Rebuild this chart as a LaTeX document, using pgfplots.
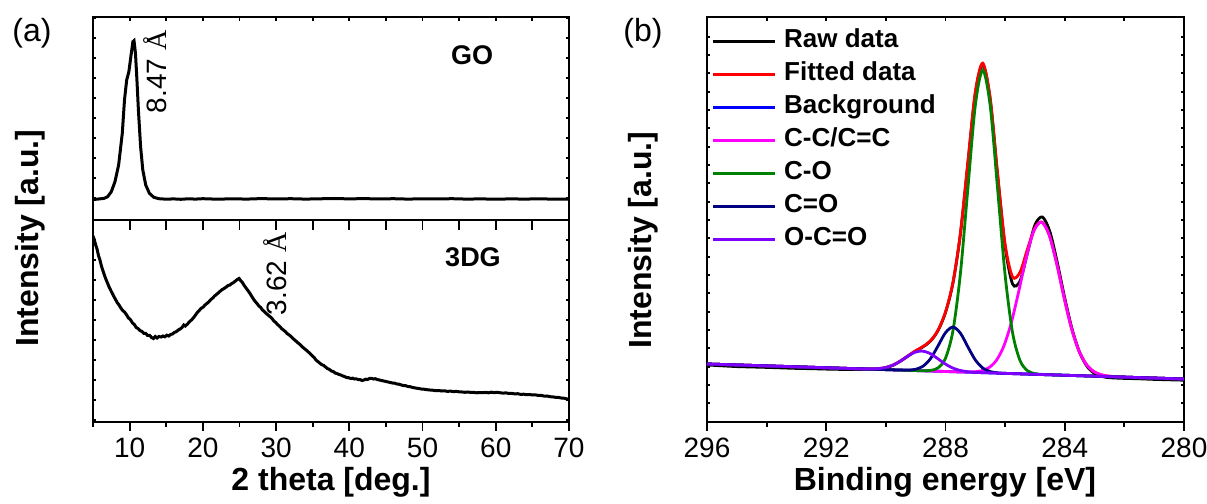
\documentclass[border=0pt]{standalone}
\usepackage{fontspec}
\setmainfont{Liberation Sans}
\newfontfamily\seriffont{Liberation Serif}
\usepackage{pgfplots}
\pgfplotsset{compat=1.18}

\definecolor{cgreen}{RGB}{0,128,0}
\definecolor{cnavy}{RGB}{0,0,128}
\definecolor{cviolet}{RGB}{128,0,255}
\definecolor{cmag}{RGB}{255,0,255}

\pgfplotsset{
  frm/.style={scale only axis, anchor=south west,
    axis line style={line width=0.9pt},
    every tick/.style={black,line width=0.9pt},
    tick align=inside,
    /pgf/number format/assume math mode=true,
    ticklabel style={font=\fontsize{14}{14}\selectfont},
    major tick length=1.6pt, minor tick length=1.6pt},
}

\begin{document}
\begin{tikzpicture}[x=1pt,y=1pt]
\useasboundingbox (0,0) rectangle (603.5,252);

% ---------------- (a) top : GO ----------------
\begin{axis}[frm, at={(46.5pt,142pt)}, width=238pt, height=101.5pt,
  xmin=5, xmax=70, ymin=0, ymax=203,
  xtick=\empty,
  ytick={21.7,41.7,...,201.7}, yticklabels={}, ytick pos=both]
\addplot[black, line width=1.5pt] coordinates {
(5,20.5)(5.5,20.8)(6,21.2)(6.5,21.6)(7,23.3)(7.5,28.3)(8,38.3)(8.5,55)(9,86.7)(9.3,120)(9.6,140)(9.9,148.3)(10.2,165)(10.45,178.3)(10.6,179.3)(10.8,166.7)(11,140)(11.2,110)(11.5,73.3)(11.8,50)(12.2,35)(12.7,26.7)(13.3,22.7)(14,21.3)(15,20.8)(16,21.1)(17,20.7)(18,21.2)(19,20.9)(20,21.3)(22,20.8)(24,21.2)(26,20.9)(28,21.4)(30,21.0)(32,21.3)(34,20.9)(36,21.2)(38,21.5)(40,21.1)(42,21.4)(44,21.0)(46,21.3)(48,20.9)(50,21.2)(52,21.0)(54,21.3)(56,20.9)(58,21.1)(60,20.8)(62,21.1)(64,20.9)(66,21.2)(68,20.8)(70,20.9)
};
\end{axis}
\begin{axis}[frm, hide y axis, at={(46.5pt,142pt)}, width=238pt, height=101.5pt,
  xmin=5, xmax=70, ymin=0, ymax=203,
  xtick={10,15,...,65}, xticklabels={}, xtick pos=right, major tick length=2pt]
\end{axis}

% ---------------- (a) bottom : 3DG ----------------
\begin{axis}[frm, at={(46.5pt,41pt)}, width=238pt, height=101pt,
  xmin=5, xmax=70, ymin=0, ymax=202,
  xtick=\empty,
  ytick={2,22,...,182}, yticklabels={}, ytick pos=both]
\addplot[black, line width=1.5pt] coordinates {
(5,186)(5.15,183)(5.35,177.5)(5.55,173)(5.75,166.5)(5.95,162)(6.15,156)(6.35,151.5)(6.55,147)(6.75,143)(6.95,139.5)(7.2,135)(7.5,130.5)(7.75,127)(8.0,123.5)(8.3,119.5)(8.55,117)(8.8,114)(9.05,111.5)(9.3,110)(9.6,107)(9.85,104)(10.1,102.5)(10.4,99)(10.65,97.5)(10.9,94.5)(11.15,93.5)(11.4,91.5)(11.7,90.5)(11.95,88.5)(12.2,88.5)(12.45,86.5)(12.75,86.5)(13.0,84.5)(13.25,83.5)(13.5,85.5)(13.75,84)(14.0,85.5)(14.3,85)(14.55,86)(14.8,85.2)(15.1,86.8)(15.35,86)(15.6,87.5)(15.85,88)(16.1,89.5)(16.4,90.5)(16.65,92)(16.9,93)(17.15,94.5)(17.4,97)(17.6,96)(17.9,98)(18.2,100.5)(18.45,102)(18.75,104.5)(19.0,107)(19.25,109.5)(19.5,111.5)(19.75,113.5)(20.05,115)(20.3,117)(20.55,118.5)(20.8,120)(21.1,122.5)(21.35,124)(21.6,126)(21.85,127.5)(22.1,129)(22.4,131)(22.65,132.5)(22.9,133.5)(23.2,135)(23.45,136.5)(23.7,137)(23.95,138.5)(24.2,139.5)(24.45,141)(24.7,142.5)(24.95,143.5)(25.15,141.5)(25.4,139.5)(25.65,136.5)(25.9,134)(26.15,131.5)(26.4,129)(26.65,126)(26.9,123)(27.15,120.5)(27.4,118.5)(27.65,116)(27.9,114.5)(28.15,112)(28.4,110.5)(28.65,108.5)(28.9,107)(29.15,105.5)(29.45,103.5)(29.7,101)(29.95,99.5)(30.2,97.5)(30.5,95.5)(30.75,93.5)(31.0,92)(31.25,90.5)(31.5,88.5)(31.8,87)(32.05,85.5)(32.3,83.5)(32.55,82)(32.85,80)(33.1,78.5)(33.35,77)(33.6,75)(33.85,73.5)(34.1,72)(34.4,70)(34.65,68.5)(34.9,66.5)(35.2,64.5)(35.45,62)(35.7,60.5)(35.95,59)(36.2,57.5)(36.5,56.5)(36.75,55)(37.0,53.5)(37.3,52.5)(37.55,51)(37.8,50.5)(38.05,49)(38.3,48.5)(38.6,47.5)(38.85,47)(39.1,46)(39.35,45.5)(39.6,44.5)(39.9,44.3)(40.2,43.5)(40.45,43.8)(40.7,43)(40.95,43.2)(41.2,42.5)(41.5,42.3)(41.75,41.5)(42.0,42)(42.25,42.8)(42.5,42.5)(42.75,43.5)(43.0,43.7)(43.3,43)(43.55,43.3)(43.8,42.5)(44.1,42)(44.4,41.5)(44.7,41)(45.0,40.5)(45.3,40)(45.6,39.5)(45.9,39)(46.2,38.8)(46.5,38)(46.8,37.8)(47.1,37)(47.4,36.5)(47.7,36.3)(48.0,35.5)(48.3,35.3)(48.6,34.6)(48.9,34.2)(49.2,33.8)(49.5,33.5)(49.8,33)(50.2,32.8)(50.6,32.3)(51.0,32)(51.4,31.8)(51.8,31.3)(52.2,31.5)(52.6,31)(53.0,31.2)(53.4,30.6)(53.8,30.9)(54.2,30.4)(54.6,30.6)(55.0,30.2)(55.4,30.0)(55.8,29.7)(56.2,30)(56.6,29.5)(57.0,29.6)(57.4,29.2)(57.8,29.5)(58.2,29.3)(58.6,29.6)(59.0,29.2)(59.4,29.8)(59.8,29.4)(60.2,29.7)(60.6,29.2)(61.0,28.9)(61.4,29.1)(61.8,28.5)(62.2,28.6)(62.6,28.1)(63.0,28.3)(63.4,27.6)(63.8,27.8)(64.2,27.3)(64.6,27.5)(65.0,27)(65.4,27.2)(65.8,26.5)(66.2,26.6)(66.6,25.9)(67.0,26)(67.4,25.3)(67.8,25.1)(68.2,24.6)(68.6,24.5)(69.0,23.9)(69.4,23.7)(69.7,23.1)(70,22.5)
};
\end{axis}
\begin{axis}[frm, hide y axis, at={(46.5pt,41pt)}, width=238pt, height=101pt,
  xmin=5, xmax=70, ymin=0, ymax=202,
  xtick={10,15,...,65}, xticklabels={}, xtick pos=right, major tick length=5pt]
\end{axis}
\begin{axis}[frm, hide y axis, at={(46.5pt,41pt)}, width=238pt, height=101pt,
  xmin=5, xmax=70, ymin=0, ymax=202,
  xtick={10,20,...,70}, minor xtick={5,15,...,65}, xtick pos=left,
  tick align=outside, major tick length=4.5pt, minor tick length=2.5pt]
\end{axis}

% ---------------- (b) XPS ----------------
\begin{axis}[frm, at={(353.5pt,41pt)}, width=238.5pt, height=202.5pt,
  x dir=reverse, xmin=280, xmax=296, ymin=0, ymax=405,
  xtick=\empty,
  ytick={18.7,37.03,...,386}, yticklabels={}, ytick pos=both,
  legend cell align=left,
  legend style={draw=none, fill=none, at={(rel axis cs:0,1)}, anchor=north west,
    xshift=2pt, yshift=-5.5pt, inner sep=0pt, row sep=3.4pt,
    font=\bfseries\fontsize{13}{13}\selectfont,
    nodes={inner sep=0pt, text height=9.6pt, text depth=3.5pt},
    /tikz/every odd column/.append style={column sep=4pt}},
  legend image code/.code={\draw[#1, line width=1.4pt] (0pt,0pt) -- (31pt,0pt);}]
% Raw data
\addplot[black, line width=1.4pt, smooth] coordinates {
(296,57.0)(295.5,56.2)(295,55.4)(294.5,55.0)(294,54.6)(293.5,54.1)(293,53.6)(292.5,53.3)(292,52.9)(291.5,52.6)(291,52.4)(290.75,52.5)(290.5,52.6)(290.25,53.0)(290,54.3)(289.75,56.8)(289.5,61.0)(289.25,66.0)(289,71.0)(288.75,75.2)(288.5,81.0)(288.25,91.5)(288,109.5)(287.75,139.0)(287.5,188.0)(287.25,258.5)(287,328.5)(286.75,357.5)(286.5,322.5)(286.25,246.0)(286,175.5)(285.75,138.0)(285.5,141.0)(285.25,169.0)(285,197.0)(284.75,205.0)(284.5,190.5)(284.25,159.5)(284,124.0)(283.75,92.5)(283.5,69.5)(283.25,55.5)(283,48.5)(282.75,45.5)(282.5,44.3)(282,43.6)(281.5,43.2)(281,42.6)(280.5,42.2)(280,41.8)
};
\addlegendentry{Raw data}
% Fitted data
\addplot[red, line width=1.4pt, smooth] coordinates {
(296,58)(294,56.13)(292,54.25)(291,53.32)(290.75,53.14)(290.5,53.07)(290.25,53.39)(290,54.53)(289.75,57.07)(289.5,61.24)(289.25,66.40)(289,71.32)(288.75,75.62)(288.5,81.34)(288.25,91.87)(288,109.98)(287.75,139.5)(287.5,188.65)(287.25,259.36)(287,329.9)(286.75,358.82)(286.5,323.49)(286.25,247.29)(286,177.64)(285.75,145.1)(285.5,149.82)(285.25,172.99)(285,194.21)(284.75,199.63)(284.5,185.17)(284.25,155.87)(284,121.51)(283.75,91.19)(283.5,69.49)(283.25,56.55)(283,49.94)(282.75,46.99)(282.5,45.76)(282,44.9)(281,43.94)(280,43)
};
\addlegendentry{Fitted data}
% Background
\addplot[blue, line width=1.4pt] coordinates {(296,58)(280,43)};
\addlegendentry{Background}
% C-C/C=C
\addplot[cmag, line width=1.4pt, smooth] coordinates {
(296,58)(290,52.38)(287.55,50.08)(287.3,49.98)(287.05,50.15)(286.8,51.15)(286.55,54.17)(286.3,61.35)(286.05,75.42)(285.8,98.51)(285.55,129.71)(285.3,163.40)(285.05,189.98)(284.8,200.0)(284.55,189.52)(284.3,162.46)(284.05,128.31)(283.8,96.63)(283.55,73.08)(283.3,58.53)(283.05,50.89)(282.8,47.40)(282.55,45.93)(282.3,45.30)(282.05,44.92)(280,43)
};
\addlegendentry{C-C/C=C}
% C-O
\addplot[cgreen, line width=1.4pt, smooth] coordinates {
(296,58)(290,52.38)(289,51.44)(288.75,51.3)(288.5,51.63)(288.25,54.09)(288,63.8)(287.75,91.17)(287.5,148.33)(287.25,233.3)(287,316.56)(286.75,351.93)(286.5,316.09)(286.25,232.36)(286,146.93)(285.75,89.29)(285.5,61.46)(285.25,51.28)(285,48.35)(284.75,47.55)(284.5,47.22)(280,43)
};
\addlegendentry{C-O}
% C=O
\addplot[cnavy, line width=1.4pt, smooth] coordinates {
(296,58)(291,53.31)(289.75,52.14)(289.5,51.95)(289.25,51.94)(289,52.74)(288.75,55.85)(288.5,63.48)(288.25,76.11)(288,89.30)(287.75,94.97)(287.5,88.83)(287.25,75.18)(287,62.07)(286.75,53.98)(286.5,50.39)(286.25,49.13)(286,48.67)(285.75,48.39)(280,43)
};
\addlegendentry{C=O}
% O-C=O
\addplot[cviolet, line width=1.4pt, smooth] coordinates {
(296,58)(292,54.25)(291.05,53.36)(290.8,53.17)(290.55,53.07)(290.3,53.28)(290.05,54.20)(289.8,56.43)(289.55,60.26)(289.3,65.16)(289.05,69.42)(288.8,71.0)(288.55,68.96)(288.3,64.22)(288.05,58.86)(287.8,54.55)(287.55,51.86)(287.3,50.46)(287.05,49.79)(286.8,49.42)(286.55,49.15)(280,43)
};
\addlegendentry{O-C=O}
\end{axis}
\begin{axis}[frm, hide y axis, at={(353.5pt,41pt)}, width=238.5pt, height=202.5pt,
  x dir=reverse, xmin=280, xmax=296, ymin=0, ymax=405,
  xtick={282,284,...,294}, xticklabels={}, xtick pos=right, major tick length=2pt]
\end{axis}
\begin{axis}[frm, hide y axis, at={(353.5pt,41pt)}, width=238.5pt, height=202.5pt,
  x dir=reverse, xmin=280, xmax=296, ymin=0, ymax=405,
  xtick={280,284,...,296}, minor xtick={282,286,290,294}, xtick pos=left,
  tick align=outside, major tick length=4.5pt, minor tick length=2.5pt]
\end{axis}

% ---------------- texts ----------------
\node[font=\fontsize{16}{16}\selectfont] at (16,235.5) {(a)};
\node[font=\fontsize{16}{16}\selectfont] at (321.5,235.5) {(b)};
\node[font=\bfseries\fontsize{16}{16}\selectfont, rotate=90] at (15,133) {Intensity [a.u.]};
\node[font=\bfseries\fontsize{16}{16}\selectfont, rotate=90] at (321.5,132) {Intensity [a.u.]};
\node[font=\bfseries\fontsize{16}{16}\selectfont] at (165.5,11) {2 theta [deg.]};
\node[font=\bfseries\fontsize{16}{16}\selectfont] at (472.5,11) {Binding energy [eV]};
\node[font=\bfseries\fontsize{13.5}{13.5}\selectfont] at (236,224.5) {GO};
\node[font=\bfseries\fontsize{13.5}{13.5}\selectfont] at (236.5,123.5) {3DG};
\node[font=\fontsize{14}{14}\selectfont, rotate=90] at (77.5,216) {8.47 {\seriffont Å}};
\node[font=\fontsize{14}{14}\selectfont, rotate=90] at (137.75,115) {3.62 {\seriffont Å}};
\end{tikzpicture}
\end{document}
